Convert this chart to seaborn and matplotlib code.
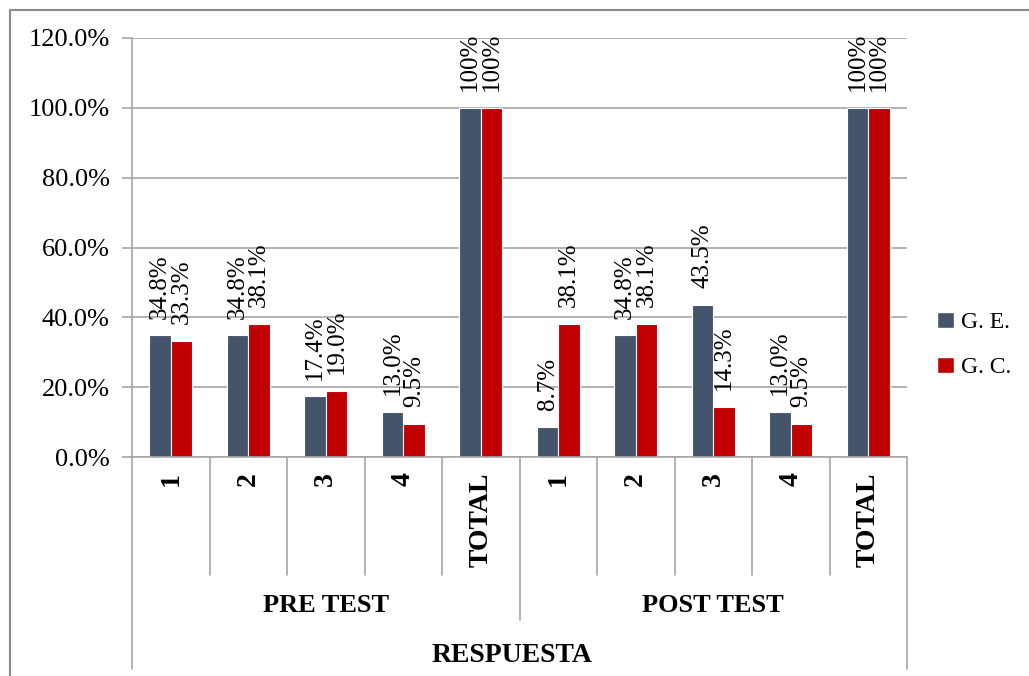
import pandas as pd
import seaborn as sns
import matplotlib.pyplot as plt
from matplotlib.lines import Line2D
from matplotlib.ticker import PercentFormatter

# === Data ===
fases = ["PRE TEST", "POST TEST"]
respuestas = ["1", "2", "3", "4", "TOTAL"]
grupos = ["G. E.", "G. C."]
pre_ge = [34.8, 34.8, 17.4, 13.0, 100.0]
pre_gc = [33.3, 38.1, 19.0, 9.5, 100.0]
post_ge = [8.7, 34.8, 43.5, 13.0, 100.0]
post_gc = [38.1, 38.1, 14.3, 9.5, 100.0]
colores = ["#44546A", "#C00000"]

rows = []
for fase, ge, gc in [("PRE TEST", pre_ge, pre_gc), ("POST TEST", post_ge, post_gc)]:
    for r, a, b in zip(respuestas, ge, gc):
        rows.append({"fase": fase, "resp": r, "key": f"{fase} {r}", "grupo": "G. E.", "valor": a / 100})
        rows.append({"fase": fase, "resp": r, "key": f"{fase} {r}", "grupo": "G. C.", "valor": b / 100})
df = pd.DataFrame(rows)
orden = [f"{f} {r}" for f in fases for r in respuestas]

# === Style ===
sns.set_theme(style="white")
plt.rcParams["font.family"] = ["Liberation Serif", "DejaVu Serif"]
plt.rcParams["text.color"] = "black"
plt.rcParams["xtick.labelcolor"] = "black"
plt.rcParams["ytick.labelcolor"] = "black"

W, H = 1029, 676
fig = plt.figure(figsize=(W / 100, H / 100), dpi=100)
ax = fig.add_axes([132 / W, 1 - 457 / H, (907 - 132) / W, (457 - 38) / H])

sns.barplot(data=df, x="key", y="valor", hue="grupo", order=orden, hue_order=grupos,
            palette=colores, saturation=1, width=0.55, edgecolor="white", linewidth=0.8,
            errorbar=None, ax=ax, legend=False)

# === Data labels ===
for cont, vals in zip(ax.containers, [pre_ge + post_ge, pre_gc + post_gc]):
    labels = ["100%" if v == 100 else f"{v:.1f}%" for v in vals]
    ax.bar_label(cont, labels=labels, rotation=90, padding=12, fontsize=18, color="black")

# === Y axis ===
ax.set_ylim(0, 1.2)
ax.set_yticks([0, 0.2, 0.4, 0.6, 0.8, 1.0, 1.2])
ax.yaxis.set_major_formatter(PercentFormatter(1.0, decimals=1))
ax.yaxis.grid(True, color="#a6a6a6", linewidth=1.2)
ax.set_axisbelow(True)
ax.tick_params(axis="y", length=7, width=1.2, color="#a6a6a6", direction="out",
               labelsize=19, pad=9, left=True, labelcolor="black")
ax.set_ylabel("")
ax.set_xlabel("")
for s in ["top", "right"]:
    ax.spines[s].set_visible(False)
for s in ["left", "bottom"]:
    ax.spines[s].set_color("#a6a6a6")
    ax.spines[s].set_linewidth(1.2)

# === X axis, multi-level ===
ax.set_xlim(-0.5, 9.5)
ax.set_xticks(range(10))
ax.set_xticklabels(respuestas * 2, rotation=90, fontweight="bold", fontsize=20, va="top")
ax.tick_params(axis="x", length=0, pad=11, labelcolor="black")

tr = ax.get_xaxis_transform()
for i in range(11):
    x = i - 0.5
    if i in (0, 10):
        y0 = (457 - 669) / 419
    elif i == 5:
        y0 = (457 - 620) / 419
    else:
        y0 = (457 - 575) / 419
    ax.plot([x, x], [0, y0], transform=tr, color="#a6a6a6", lw=1.2, clip_on=False)

ax.text(2, (457 - 606) / 419, "PRE TEST", transform=tr, ha="center", va="center",
        fontsize=19, fontweight="bold")
ax.text(7, (457 - 606) / 419, "POST TEST", transform=tr, ha="center", va="center",
        fontsize=19, fontweight="bold")
ax.text(4.4, (457 - 655) / 419, "RESPUESTA", transform=tr, ha="center", va="center",
        fontsize=20, fontweight="bold")

# === Legend ===
handles = [plt.Rectangle((0, 0), 1, 1, facecolor=c, edgecolor="white") for c in colores]
fig.legend(handles, grupos, loc="center left", bbox_to_anchor=(916 / W, 1 - 345 / H),
           frameon=False, fontsize=17, handlelength=0.7, handleheight=0.7,
           handletextpad=0.3, labelspacing=1.0)

# === Figure border ===
fig.add_artist(Line2D([9.5 / W, 9.5 / W], [0, 1 - 9.5 / H], color="#8c8c8c", lw=1.5))
fig.add_artist(Line2D([9.5 / W, 1], [1 - 9.5 / H, 1 - 9.5 / H], color="#8c8c8c", lw=1.5))

plt.savefig("out.png", dpi=100)
